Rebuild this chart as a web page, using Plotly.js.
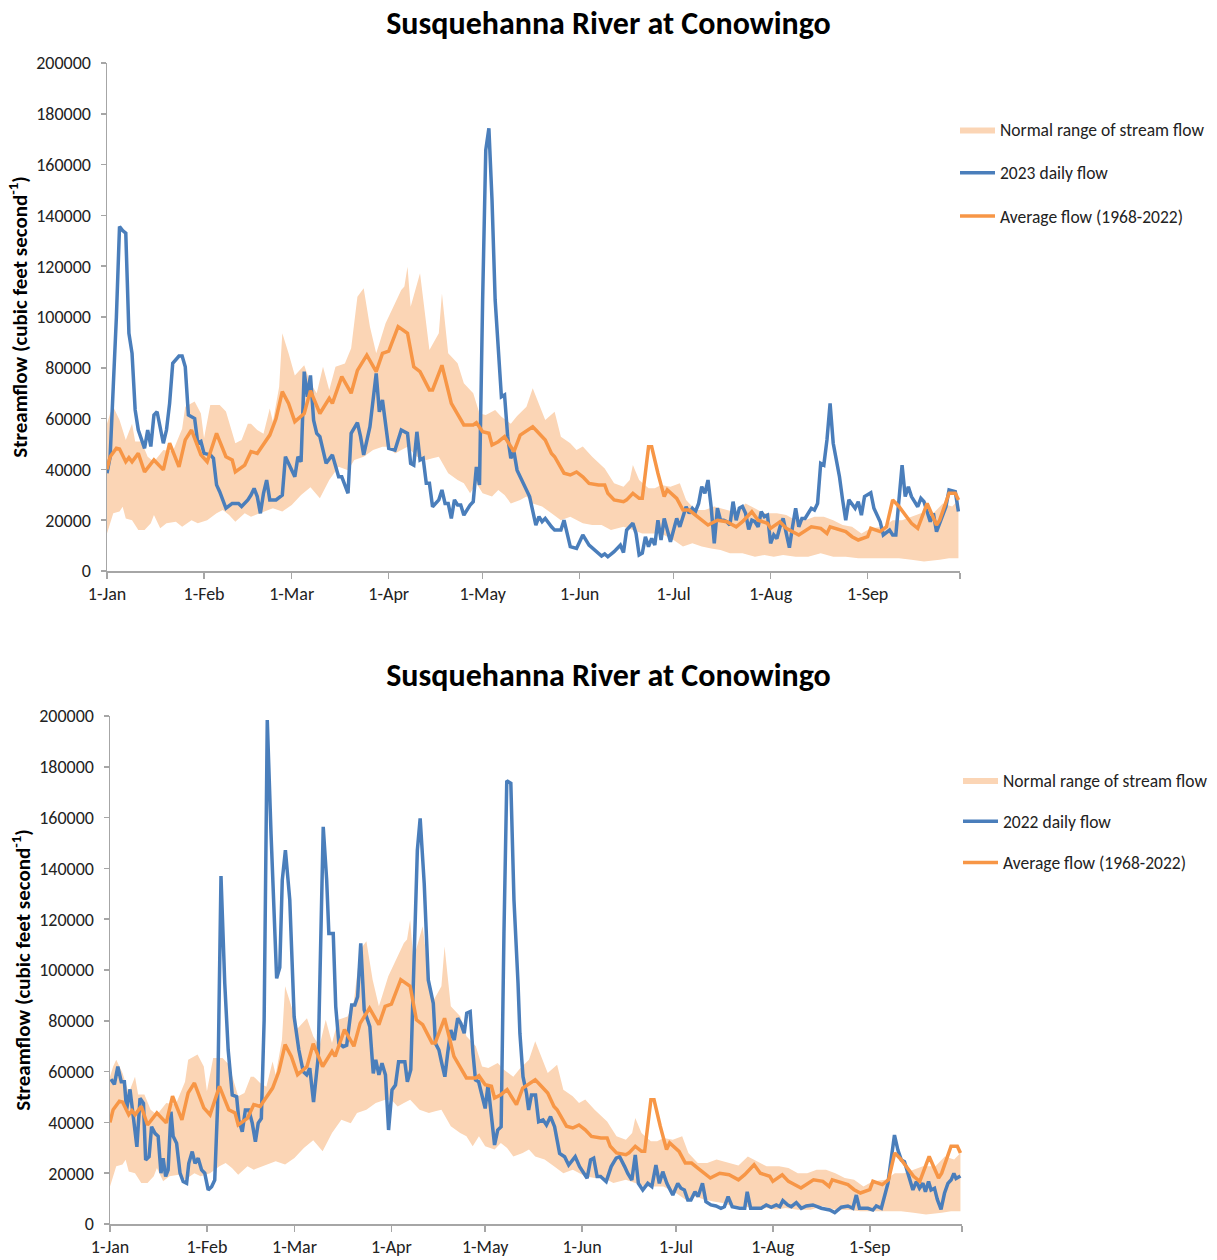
<!DOCTYPE html>
<html>
<head>
<meta charset="utf-8">
<script src="https://cdn.plot.ly/plotly-3.0.1.min.js"></script>
<style>
  html, body { margin: 0; padding: 0; background: #fff; }
  #c1 { position: absolute; left: 0; top: 0; width: 1217px; height: 652px; }
  #c2 { position: absolute; left: 0; top: 652px; width: 1217px; height: 608px; }
</style>
</head>
<body>
<div id="c1"></div>
<div id="c2"></div>
<script>
// ---- Axis labels ----
const monthTickDays = [0, 31, 59, 90, 120, 151, 181, 212, 243, 272.5];
const monthTickText = ['1-Jan', '1-Feb', '1-Mar', '1-Apr', '1-May', '1-Jun', '1-Jul', '1-Aug', '1-Sep', ' '];
const chartTitle = 'Susquehanna River at Conowingo';
const yTitle = '<b>Streamflow (cubic feet second<sup>-1</sup>)</b>';
const rangeName = 'Normal range of stream flow';
const avgName = 'Average flow (1968-2022)';
const name2023 = '2023 daily flow';
const name2022 = '2022 daily flow';

// ---- Normal range (upper) : day of year (0 = 1-Jan), cfs ----
const rangeUpperDays = [0,1,2,4,6,8,9,11,13,15,18,21,24,25,28,30,31,33,36,38,41,43,45,46,48,50,52,53,55,56,58,60,63,65,67,69,71,73,76,78,80,82,84,86,87,89,91,94,95,96,97,100,103,106,107,109,112,114,117,119,121,124,126,129,131,134,136,138,140,143,145,148,150,152,155,159,162,165,167,168,170,173,175,177,180,183,185,188,191,194,198,201,204,207,210,214,217,220,223,226,229,232,235,238,241,244,248,251,254,257,260,264,267,270,272];
const rangeUpper = [58000,62000,64700,59400,51600,58000,51000,51000,45000,43000,47600,47000,56000,64700,66700,62000,52300,65400,65400,62800,50300,51600,58000,58000,55500,54000,64000,58800,72500,93600,85700,77000,81000,73900,70000,80400,71300,80400,81700,87700,108000,111300,96200,85700,89600,97500,102800,110600,112000,119800,104000,117200,87000,93600,109300,85700,81800,73900,70000,62000,61400,63400,60700,58000,61000,64700,71900,66000,59400,62700,52900,50300,47600,49000,45000,40400,34500,33200,35800,41700,35800,32600,32600,33900,33200,34500,28000,24000,24000,25400,24000,23000,26600,24700,22700,22700,22000,20000,20000,21400,21400,20000,18100,17400,14800,16800,17400,20000,20000,21400,22700,22700,26600,25400,28000];

// ---- Normal range (lower) ----
const rangeLowerDays = [0,2,4,5,6,8,10,12,14,15,17,19,22,24,27,29,32,35,37,39,41,44,46,49,53,56,59,62,64,65,68,71,74,77,79,82,85,88,90,92,94,96,99,102,104,106,109,112,114,116,118,120,123,125,127,129,132,134,136,139,142,145,148,152,155,158,161,165,168,171,174,177,181,184,187,190,193,196,199,203,207,210,213,216,220,224,228,232,236,240,244,248,253,257,261,266,269,272];
const rangeLower = [14800,22700,23400,25300,20700,20000,16100,16100,18800,22000,16800,18800,19400,17400,20000,18800,20000,22700,24000,22000,19400,22700,21400,22700,24700,23400,26000,29900,31900,33000,28600,35800,41000,39700,43700,45000,47600,48900,48900,46300,47600,48900,45000,43700,44400,45000,38500,35800,34500,30600,34500,30600,29300,31900,29900,26600,28000,29300,26600,25400,22700,20000,21400,18800,18100,18100,16100,17400,16100,14800,14800,14800,12200,9600,10900,9600,8900,8300,7000,7000,5600,6300,5600,6300,5600,5600,7000,5600,5600,5000,5000,5000,5000,4400,3700,4400,5000,5000];

// ---- Average flow 1968-2022 ----
const avgDays = [0,1,3,4,6,7,8,10,12,15,18,20,23,25,27,30,32,35,38,40,41,44,46,48,52,54,56,58,60,63,65,68,71,72,75,78,80,83,86,88,90,93,96,98,100,103,104,107,110,112,114,117,118,120,122,123,125,127,130,132,136,137,140,142,143,146,148,150,152,154,157,159,160,162,165,166,168,170,171,173,174,176,178,179,182,184,186,188,192,195,198,201,203,206,208,211,212,215,217,221,225,228,230,231,236,238,240,243,244,247,249,251,253,257,259,262,265,266,269,271,272];
const avgFlow = [40000,45000,48300,48000,43000,44600,43000,46300,39000,43700,39800,50300,41000,51600,55500,45700,43000,54200,45000,43700,39000,41700,47000,46300,53500,60000,70600,66000,58800,62000,71000,62000,68000,66000,76500,70000,79000,85000,78500,85700,86600,96200,93600,80400,78500,71300,71300,81000,66000,61400,57500,57500,58400,54800,54200,49600,50900,52900,47000,53500,56800,55500,51600,46300,45000,38500,37800,39000,37100,34500,33900,33900,30600,28000,27300,28000,30600,28600,28600,48900,48900,38500,29300,31900,28600,24000,24000,22000,18100,20000,19400,17400,19400,23300,20000,18800,16800,19400,16800,14200,17400,16800,14800,17400,15500,13500,12200,13500,16800,15500,17400,28000,25400,18800,16800,26600,18100,20000,30600,30600,28000];

// ---- 2023 daily flow ----
const days2023 = [0,1,2,3,4,5,6,7,8,9,10,11,12,13,14,15,16,18,19,20,21,23,24,25,26,28,29,30,31,33,34,35,36,38,40,42,43,45,46,47,48,49,50,51,52,54,56,57,60,61,62,63,64,65,66,67,68,70,72,74,75,77,78,80,81,82,84,86,87,88,90,92,94,96,97,98,99,100,101,102,103,104,106,107,108,109,110,111,112,113,114,116,117,118,119,120,121,122,123,124,126,127,128,129,130,131,132,133,135,137,138,139,140,142,143,145,146,147,148,150,152,154,155,158,159,160,162,164,165,166,168,169,170,171,172,173,174,175,176,177,178,180,182,183,185,186,187,188,189,190,191,192,193,194,195,196,197,198,199,200,201,202,203,204,205,206,207,208,209,210,211,212,213,214,215,216,217,218,219,220,221,222,223,225,226,227,228,229,230,231,232,234,235,236,237,239,240,241,242,244,245,247,248,250,251,252,253,254,255,256,257,259,260,261,263,264,265,267,268,269,271,272];
const flow2023 = [38500,45000,72600,100000,135600,134000,133000,93600,85700,63400,55500,52300,48300,55500,49000,61400,62700,50300,55500,66000,81800,84600,84600,80400,61400,60000,50300,51000,46300,45700,44400,33900,31200,24700,26600,26600,25400,28000,29900,32500,29300,22700,30600,35800,28000,28000,29900,45000,37100,45000,43000,78500,68600,77000,59400,54200,52900,42400,45700,37100,37100,30600,54200,58400,52900,45700,56800,77800,62700,67300,48300,47600,55500,54200,42400,41700,54800,43700,44400,34500,34500,25300,28000,31900,26600,26600,20700,28000,26000,26000,22000,26000,27300,41000,33900,106700,165700,174300,146000,106700,68600,69300,52900,44400,47000,39700,37100,34500,29300,18100,21400,19400,20700,17400,16100,16100,20000,14800,9600,8900,14200,10200,9200,5900,6700,5600,7600,10200,7300,16100,18800,14800,6300,7000,13500,9600,12800,10200,20000,12200,20700,11500,20700,17400,25300,22700,24700,23400,26600,33200,30600,35800,25300,10900,24700,20000,20000,19400,18100,27300,20000,24700,25400,22700,16400,20000,19400,17400,23400,21400,22000,10900,14200,12800,17400,20700,14800,9200,17400,24700,17400,20700,20700,24700,24000,26600,42400,41700,51600,66000,50300,37100,28000,20000,28000,24700,27300,22000,29300,30800,24700,19400,14200,16100,14200,14200,28000,41700,29300,33200,29300,25300,28600,27300,19400,22700,15500,22000,25300,31900,31200,23400];

// ---- 2022 daily flow ----
const days2022 = [0.3,1.4,2.5,3.6,4.6,5.3,6.4,7.2,8.6,9.6,10.7,11.4,12.5,13.3,14.4,15.4,16.3,17,17.8,18.6,19.5,20.2,21.3,22.4,23.4,24.5,25.2,26.3,27.2,28.2,29.3,30.3,31.4,32.5,33.5,34.4,35.5,36.7,37.8,39.1,40.5,41.2,42.3,43.3,44.4,45.5,46.5,47.4,48.4,49.3,50.3,51.5,53.3,54.3,55.1,56.1,57.5,58.9,60.4,61.8,62.9,63.9,65.1,66.6,67.5,68.2,69.3,70,71.4,72.2,73.2,74.6,75.7,77.3,78.3,79.2,80.2,81.3,82.4,83.1,84.2,85,86,87,88.1,89.1,90.2,91.3,92.3,93.4,94.3,95.1,96.2,97.5,98.3,99.2,100.5,101.8,103.4,104.1,105.2,106.1,107.1,108,109,110.1,111.2,112.2,113.3,114.1,115.2,116.1,116.9,117.9,119,120,120.9,121.9,123,124,125.1,126,126.9,128.2,129.2,130.5,131.1,132.1,133.2,133.9,134.8,136.1,137.1,138.5,139.6,140.9,142.2,143.8,145.4,146.7,148.8,150.2,151.2,152.6,153.7,154.7,155.8,156.9,158.7,160.3,161.9,163,164.6,165.6,166.9,168,169,170.4,172,173.3,174.6,175.7,176.8,178.1,180,181.6,182.6,183.7,184.8,185.8,187.1,188.1,189.5,190.6,192.2,193.8,195.4,196.5,197.7,199,201.4,203,203.8,204.9,208.3,209.9,211.5,213.1,214.2,215.2,216.8,217.9,219.5,221.1,222.7,224.8,227.5,230.2,231.8,233.9,236,237.6,238.7,239.7,242.4,244,245.1,246.7,248.8,249.9,250.9,252,253.1,254.1,255.4,256.8,257.9,258.9,260,260.8,261.8,262.6,263.7,264.6,265.8,266.9,268,269,269.9,270.6,272];
const flow2022 = [57000,55000,62000,56000,56000,45000,53000,45500,30400,49500,47500,25200,26500,38300,35700,34500,20000,25900,18700,21300,44200,34500,31800,20000,16700,16000,23900,28500,23900,25900,21300,20000,13400,14700,17300,46200,137000,94800,68500,50800,50100,41000,36300,44900,44900,39700,32400,39700,41600,80300,198400,153800,96700,101000,135400,147200,127600,81600,68500,60000,58700,61300,48000,65900,114400,156400,135500,114400,114400,85600,71100,69800,70400,86200,86200,89500,110500,84300,80300,77700,59300,64600,58700,63300,58700,37000,52800,54700,63900,63900,63900,56000,60700,114400,147200,159700,134000,96100,86900,71100,68500,63300,58000,67200,76400,72400,81000,79000,75100,83000,83600,67200,56700,56000,50800,45500,54700,43600,31100,37000,38300,114400,174500,173500,127600,94800,75000,58000,51500,44900,50800,50800,40300,41000,39000,42300,38300,27800,26500,23200,26500,22600,20600,18000,25200,25900,18700,18700,16700,22600,25900,26500,22600,19900,17300,27200,16000,13400,16000,14700,23200,16000,20600,16000,11400,16000,14100,13400,9400,9400,12700,10800,16000,8800,7500,7100,6200,6800,10800,6800,6200,6200,12700,6200,6200,7500,6600,7500,6800,9200,7500,6800,8400,6200,7100,7500,6200,5500,4500,6600,7100,6200,11400,6200,6200,5500,7100,6200,16000,26500,35000,29100,25200,24500,18700,13400,16700,14100,16000,12700,16700,13400,14100,9700,5800,12100,16000,17300,19900,17900,18900];

// ---- Styles ----
const FONT = 'Carlito, Lato, "Liberation Sans", sans-serif';
const BLUE = '#4A7EBB';
const ORANGE = '#F79646';
const BAND = '#FBD5B5';
const AXIS = '#A6A6A6';

function traces(days, flow, name) {
  return [
    { x: rangeLowerDays, y: rangeLower, type: 'scatter', mode: 'lines',
      line: { width: 0, color: BAND }, showlegend: false, hoverinfo: 'skip' },
    { x: rangeUpperDays, y: rangeUpper, type: 'scatter', mode: 'lines',
      fill: 'tonexty', fillcolor: BAND, line: { width: 0, color: BAND },
      name: rangeName, legendgroup: 'a' },
    { x: days, y: flow, type: 'scatter', mode: 'lines',
      line: { width: 3.5, color: BLUE }, name: name, legendgroup: 'b' },
    { x: avgDays, y: avgFlow, type: 'scatter', mode: 'lines',
      line: { width: 3.5, color: ORANGE }, name: avgName, legendgroup: 'c' }
  ];
}

function layout(h, margin, titleY, legX, legY, legGap) {
  return {
    width: 1217, height: h,
    margin: margin,
    paper_bgcolor: '#fff', plot_bgcolor: '#fff',
    font: { family: FONT, size: 18, color: '#222' },
    title: { text: '<b>' + chartTitle + '</b>', font: { family: FONT, size: 32, color: '#000' },
             x: 0.5, xref: 'container', xanchor: 'center', y: titleY, yref: 'container', yanchor: 'middle' },
    showlegend: true,
    legend: { xref: 'container', yref: 'container', x: legX, xanchor: 'left', y: legY, yanchor: 'top',
              tracegroupgap: legGap, borderwidth: 0,
              font: { family: FONT, size: 17.5, color: '#222' }, itemwidth: 35, bgcolor: 'rgba(0,0,0,0)' },
    xaxis: { type: 'linear', range: [0, 272.5], tickmode: 'array', tickvals: monthTickDays, ticktext: monthTickText,
             showgrid: false, zeroline: false, showline: true, linecolor: AXIS, linewidth: 1.5,
             ticks: 'outside', ticklen: 6, tickcolor: AXIS, tickwidth: 1.5, automargin: false,
             tickfont: { family: FONT, size: 18, color: '#222' }, fixedrange: true },
    yaxis: { range: [0, 200000], tick0: 0, dtick: 20000, tickformat: 'd', automargin: false,
             showgrid: false, zeroline: false, showline: true, linecolor: AXIS, linewidth: 1.5,
             ticks: 'outside', ticklen: 5, tickcolor: AXIS, tickwidth: 1.5, ticklabelstandoff: 6,
             tickfont: { family: FONT, size: 18, color: '#222' },
             title: { text: yTitle, font: { family: FONT, size: 21, color: '#000' }, standoff: 3 } },
    hovermode: false
  };
}

Plotly.newPlot('c1', traces(days2023, flow2023, name2023),
  layout(652, { l: 107, r: 257, t: 63, b: 81, pad: 0, autoexpand: false }, 1 - 23 / 652, 955 / 1217, 1 - 111.5 / 652, 17.5),
  { staticPlot: true, displayModeBar: false });
Plotly.newPlot('c2', traces(days2022, flow2022, name2022),
  layout(608, { l: 110, r: 255, t: 64, b: 36, pad: 0, autoexpand: false }, 1 - 23 / 608, 958 / 1217, 1 - 110 / 608, 15.5),
  { staticPlot: true, displayModeBar: false });
</script>
</body>
</html>
